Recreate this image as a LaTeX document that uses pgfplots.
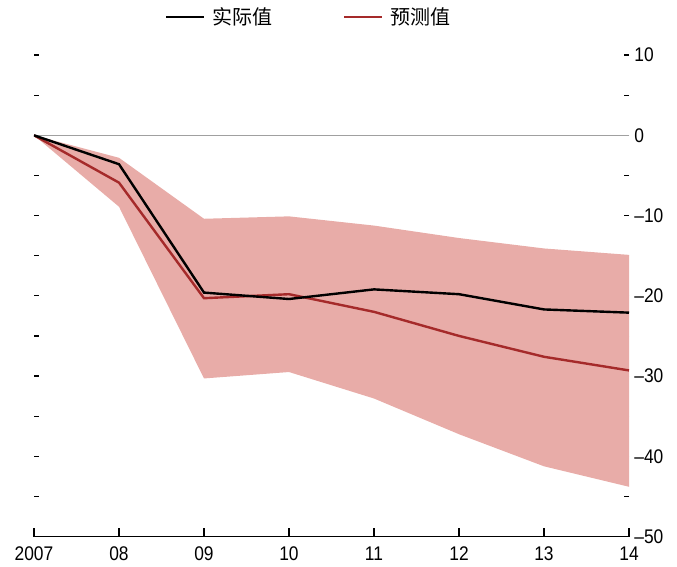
\documentclass[border=0pt]{standalone}
\usepackage{pgfplots}
\pgfplotsset{compat=1.18}
\usepackage{fontspec}
\setmainfont{Liberation Sans}[FakeStretch=0.88]
\newfontfamily\cjk{Noto Sans CJK SC}
\definecolor{bandc}{HTML}{E8ACA8}
\definecolor{redc}{HTML}{A52A2A}
\definecolor{zeroc}{HTML}{A0A0A0}
\pgfplotsset{base/.style={at={(0pt,0pt)}, anchor=south west, scale only axis,
  width=446.25pt, height=361.1pt,
  xmin=2007, xmax=2014, ymin=-50, ymax=10,
  every tick/.style={black, line width=0.9pt},
  ticklabel style={font=\fontsize{14.8}{17}\selectfont}}}
\begin{document}
\begin{tikzpicture}[x=1pt,y=1pt]
\useasboundingbox (-25.5pt,-22.4pt) rectangle (482.25pt,402.4pt);
% left ticks only
\begin{axis}[base,
  axis x line=none, axis y line*=left,
  y axis line style={draw=none},
  ytick={-50,-45,...,10}, yticklabels={},
  ytick align=inside, major tick length=3.75pt]
\addplot[draw=none, forget plot] coordinates {(2007,0)(2014,0)};
\end{axis}
% right ticks and labels
\begin{axis}[base,
  axis x line=none, axis y line*=right,
  y axis line style={draw=none},
  ytick={-50,-40,...,10},
  yticklabels={–50,–40,–30,–20,–10,0,10},
  minor ytick={-45,-35,...,5},
  ytick align=inside, major tick length=3.75pt, minor tick length=3.75pt,
  yticklabel style={inner sep=0pt, xshift=3.8pt}]
\addplot[draw=none, forget plot] coordinates {(2007,0)(2014,0)};
\end{axis}
% main axis
\begin{axis}[base,
  axis x line*=bottom, axis y line=none,
  x axis line style={line width=0.9pt},
  xtick={2007,2008,...,2014},
  xticklabels={2007,08,09,10,11,12,13,14},
  xtick align=inside, major tick length=6.75pt,
  xticklabel style={inner sep=0pt, yshift=-7.8pt},
  legend columns=2,
  legend style={draw=none, fill=none, at={(axis description cs:0.4597,1.079)}, anchor=center,
    font=\cjk\fontsize{15}{18}\selectfont, inner sep=0pt,
    nodes={inner sep=0pt},
    /tikz/every odd column/.append style={column sep=5pt},
    /tikz/every even column/.append style={column sep=53pt}},
  legend image code/.code={\draw[#1] (0pt,0pt) -- (28.5pt,0pt);}
]
\addlegendimage{black, line width=1.9pt}
\addlegendentry{实际值}
\addlegendimage{redc, line width=1.9pt}
\addlegendentry{预测值}
\addplot[fill=bandc, draw=none, forget plot] coordinates {
 (2007,0)(2008,-2.8)(2009,-10.4)(2010,-10.1)(2011,-11.25)(2012,-12.8)(2013,-14.1)(2014,-14.9)
 (2014,-43.8)(2013,-41.25)(2012,-37.25)(2011,-32.8)(2010,-29.5)(2009,-30.3)(2008,-8.9)(2007,0)} -- cycle;
\addplot[zeroc, line width=1.1pt, forget plot] coordinates {(2007,0)(2014,0)};
\addplot[redc, line width=1.8pt, forget plot] coordinates {
 (2007,0)(2008,-5.9)(2009,-20.3)(2010,-19.8)(2011,-22.0)(2012,-25.0)(2013,-27.6)(2014,-29.3)};
\addplot[black, line width=1.8pt, forget plot] coordinates {
 (2007,0)(2008,-3.6)(2009,-19.6)(2010,-20.4)(2011,-19.2)(2012,-19.8)(2013,-21.7)(2014,-22.1)};
\end{axis}
\end{tikzpicture}
\end{document}
